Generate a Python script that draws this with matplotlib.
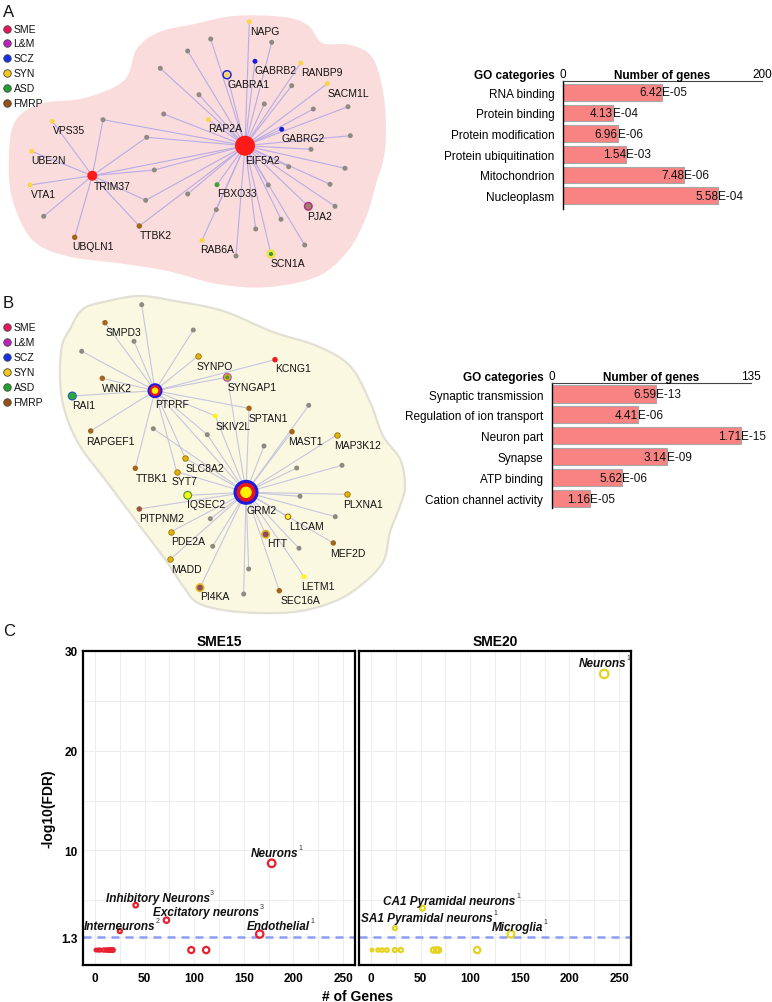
import numpy as np
import matplotlib
matplotlib.use("Agg")
import matplotlib.pyplot as plt
from matplotlib.collections import LineCollection

plt.rcParams['font.family'] = ['Liberation Sans', 'DejaVu Sans']

W, H = 772, 1003

# ------------------------------------------------------------------ DATA
legend_labels = ["SME", "L&M", "SCZ", "SYN", "ASD", "FMRP"]
legend_colors = ["#E8175D", "#C020C0", "#1430E8", "#F6C61A", "#22A030", "#9A4F16"]

# Panel A network (layout coordinates, pixel space)
A_names = ["EIF5A2", "TRIM37", "NAPG", "GABRB2", "RANBP9", "GABRA1", "SACM1L", "RAP2A",
           "GABRG2", "VPS35", "UBE2N", "VTA1", "FBXO33", "PJA2", "TTBK2", "UBQLN1",
           "RAB6A", "SCN1A"]
A_x = [245, 92.3, 249.3, 255, 300.7, 227, 327.3, 208.3, 281.7, 52.3, 31.7, 30, 217,
       308.3, 139.3, 74.7, 202, 271]
A_y = [146.7, 176.7, 22.7, 62.3, 64, 75.7, 84.7, 120.7, 130.3, 122.3, 152.3, 186, 185.7,
       207.3, 227, 238.3, 241.3, 255]
A_kind = ["hubA", "trim", "syn", "scz", "syn", "syn_scz", "syn", "syn", "scz", "syn", "syn",
          "syn", "asd", "lm_fmrp", "fmrp", "fmrp", "syn", "syn_asd"]
A_link = ["", "E", "E", "E", "E", "E", "E", "E", "E", "T", "T", "T", "E", "E", "ET", "T",
          "E", "E"]
A_lab_x = [262.3, 112.3, 265, 275.7, 321.7, 248.3, 348.3, 225.3, 302.7, 69, 49, 43.3, 237.3,
           320, 156.3, 93.3, 217.3, 288.3]
A_lab_y = [160.7, 186.7, 31.7, 70.7, 72.7, 85, 94, 129.3, 139, 131, 161, 195, 194.3, 216.7,
           235.7, 247.3, 250, 264]
A_gray_x = [210.7, 271.7, 187.7, 160.3, 291.7, 199, 264.3, 313.3, 348, 163.7, 103, 350.3,
            146.7, 311, 288.7, 154.3, 345, 268.3, 330, 187.7, 145.7, 335, 216.3, 281, 43.7,
            255.7, 304.7, 236]
A_gray_y = [40, 43.3, 52, 69.3, 86.7, 95.7, 105, 110, 107.7, 115, 120.7, 136.7, 138.3, 150.3,
            167.7, 171, 169.3, 186, 185.3, 195, 201.3, 207.3, 210.7, 220.3, 217.3, 230, 246, 257]
A_gray_link = ["E", "E", "E", "E", "E", "E", "E", "E", "E", "E", "ET", "E", "ET", "E", "E",
               "ET", "E", "E", "E", "E", "ET", "E", "E", "E", "T", "E", "E", "E"]
A_blob_x = [10, 15, 40, 85, 125, 138, 160, 195, 235, 283, 307, 322, 350, 372, 383, 384, 374,
            365, 348, 318, 268, 218, 168, 118, 67, 33, 14]
A_blob_y = [165, 125, 106, 100, 82, 50, 34, 26, 18, 19, 27, 45, 47, 60, 100, 150, 188, 218,
            250, 276, 287, 284, 271, 263, 256, 240, 202]

# Panel B network
B_names = ["PTPRF", "GRM2", "SMPD3", "SYNPO", "KCNG1", "SYNGAP1", "WNK2", "RAI1", "SPTAN1",
           "SKIV2L", "RAPGEF1", "MAST1", "MAP3K12", "SLC8A2", "TTBK1", "SYT7", "IQSEC2",
           "PLXNA1", "PITPNM2", "L1CAM", "PDE2A", "HTT", "MEF2D", "MADD", "LETM1", "PI4KA",
           "SEC16A"]
B_x = [155, 246, 105, 197.7, 275, 227.3, 102.3, 72.3, 249, 215.3, 90.7, 292, 336.7, 185.3,
       135.3, 176.7, 187.7, 346.7, 139.3, 288, 171, 265.7, 333.3, 170.3, 304, 200, 279.3]
B_y = [391.7, 493.3, 323.7, 357.3, 360.7, 378.3, 379.3, 397, 409.3, 417, 432, 432.7, 436,
       459.3, 469.3, 472.7, 496.3, 495.3, 510, 517.7, 532.7, 535.3, 544, 560.3, 577.7, 588.7,
       591.7]
B_kind = ["hubP", "hubG", "fmrp", "gold", "sme", "syngap", "fmrp", "asd_scz", "fmrp", "ylw",
          "fmrp", "fmrp", "gold", "gold", "fmrp", "gold", "iqsec", "gold", "fmrp2", "l1cam",
          "gold", "htt", "fmrp", "gold", "ylw", "htt", "fmrp"]
B_link = ["", "P", "P", "P", "P", "PG", "P", "P", "PG", "PG", "P", "G", "G", "PG", "P", "PG",
          "G", "G", "G", "G", "G", "G", "G", "G", "G", "G", "G"]
B_lab_x = [171.7, 261.7, 123.3, 215, 293.3, 251.7, 116.7, 83.3, 268.3, 233.3, 110, 305,
           357.3, 205, 151.7, 185, 205.7, 363.3, 161.7, 306, 188.3, 276.7, 348.3, 186.7, 318,
           215, 300]
B_lab_y = [405, 511.3, 333.3, 366.7, 369.3, 387.7, 389, 406, 419, 426.7, 441.7, 442.3, 445.7,
           469, 479.3, 481.7, 505.3, 505, 519, 527.3, 542.3, 544, 554, 570, 587, 597.3, 601.3]
B_gray_x = [141.7, 193.3, 134, 81.7, 308.7, 153.3, 207.3, 264, 296.7, 342, 300, 210.3, 335.3,
            212.7, 299, 248.7, 243.7]
B_gray_y = [305.7, 331, 342.3, 352.3, 406.3, 429.7, 435.7, 447, 469, 466.3, 497.3, 519.7,
            517.7, 547.3, 549.3, 570, 595]
B_gray_link = ["P", "P", "P", "P", "G", "G", "PG", "G", "G", "G", "G", "G", "G", "G", "G",
               "G", "G"]
B_blob_x = [60, 62, 70, 83, 108, 140, 175, 223, 273, 317, 350, 370, 383, 400, 405, 400, 390,
            383, 360, 333, 293, 240, 200, 183, 167, 140, 107, 80, 65]
B_blob_y = [380, 347, 330, 310, 302, 297, 302, 312, 333, 347, 367, 403, 437, 460, 487, 507,
            533, 563, 587, 603, 613, 613, 605, 587, 563, 527, 483, 447, 413]

# GO bar charts
A_go = ["RNA binding", "Protein binding", "Protein modification", "Protein ubiquitination",
        "Mitochondrion", "Nucleoplasm"]
A_go_genes = [100, 50, 55, 64, 122, 156]
A_go_p = ["6.42E-05", "4.13E-04", "6.96E-06", "1.54E-03", "7.48E-06", "5.58E-04"]
A_go_max = 200

B_go = ["Synaptic transmission", "Regulation of ion transport", "Neuron part", "Synapse",
        "ATP binding", "Cation channel activity"]
B_go_genes = [71, 58.5, 128.5, 78, 48, 26]
B_go_p = ["6.59E-13", "4.41E-06", "1.71E-15", "3.14E-09", "5.62E-06", "1.16E-05"]
B_go_max = 135

# Panel C enrichment
sme15_labels = ["Neurons", "Inhibitory Neurons", "Excitatory neurons", "Interneurons",
                "Endothelial"]
sme15_sup = ["1", "3", "3", "2", "1"]
sme15_x = [178, 41, 72, 25, 166]
sme15_y = [8.7, 4.5, 3.0, 1.9, 1.6]
sme15_ns_x = [1, 3, 5, 9, 12, 14, 16, 18, 97, 112]
sme15_ns_y = [0] * 10

sme20_labels = ["Neurons", "CA1 Pyramidal neurons", "SA1 Pyramidal neurons", "Microglia"]
sme20_sup = ["1", "1", "1", "1"]
sme20_x = [235, 52, 24, 141]
sme20_y = [27.7, 4.2, 2.2, 1.6]
sme20_ns_x = [1, 7, 11, 16, 24, 30, 63, 66, 68, 107]
sme20_ns_y = [0] * 10

fdr_threshold = 1.3
y_ticks = [1.3, 10, 20, 30]
x_ticks = [0, 50, 100, 150, 200, 250]

# ------------------------------------------------------------------ STYLES
def s_of(d_px):
    return (d_px * 0.72) ** 2

node_styles = {
    "gray": [(5, "#8E8983", "none")],
    "syn": [(5, "#F8D648", "none")],
    "scz": [(5, "#1A1ADC", "none")],
    "asd": [(5, "#3AA23A", "none")],
    "fmrp": [(5.5, "#A2661C", "none")],
    "fmrp2": [(5.5, "#A0523C", "none")],
    "sme": [(5.5, "#F01818", "none")],
    "trim": [(10, "#FF1A1A", "none")],
    "hubA": [(20, "#FF1A1A", "none")],
    "syn_scz": [(9.5, "#2020C8", "none"), (6.5, "#FBE0E0", "none"), (5, "#F8D648", "none")],
    "lm_fmrp": [(9, "#B03080", "none"), (6, "#A08070", "none")],
    "syn_asd": [(9.5, "#F0E34A", "none"), (4.2, "#3A9A3A", "none")],
    "hubP": [(15, "#1C1CE0", "none"), (11, "#E8141E", "none"), (6.5, "#FFF000", "none")],
    "hubG": [(25, "#1C1CE0", "none"), (19, "#E8141E", "none"), (11.5, "#FFF000", "none")],
    "gold": [(5.5, "#E2B400", "#9A7018")],
    "ylw": [(5, "#FFF21A", "none")],
    "syngap": [(9, "#C040C0", "none"), (7, "#C8B020", "none"), (3.8, "#4A9A2A", "none")],
    "asd_scz": [(9, "#1A50C8", "none"), (7, "#2EAA3A", "none")],
    "iqsec": [(9, "#4AA02A", "none"), (6.5, "#FFF020", "none")],
    "l1cam": [(6.5, "#9A5A1A", "none"), (4.5, "#FFF030", "none")],
    "htt": [(9, "#E0B81A", "none"), (5.8, "#8E4A66", "none")],
}


def smooth_closed(xs, ys, n=24):
    P = np.column_stack([xs, ys]).astype(float)
    N = len(P)
    out = []
    t = np.linspace(0, 1, n, endpoint=False)[:, None]
    for i in range(N):
        p0, p1, p2, p3 = P[i - 1], P[i], P[(i + 1) % N], P[(i + 2) % N]
        pts = 0.5 * ((2 * p1) + (-p0 + p2) * t + (2 * p0 - 5 * p1 + 4 * p2 - p3) * t ** 2
                     + (-p0 + 3 * p1 - 3 * p2 + p3) * t ** 3)
        out.append(pts)
    return np.vstack(out)


def draw_nodes(ax, xs, ys, kinds, z=4):
    for x, y, k in zip(xs, ys, kinds):
        for d, fc, ec in node_styles[k]:
            ax.scatter([x], [y], s=s_of(d), c=fc, edgecolors=ec,
                       linewidths=0.6 if ec != "none" else 0, zorder=z)
            z += 0.01


def draw_network(ax, names, xs, ys, kinds, links, lx, ly, gx, gy, glinks,
                 hubs, blob_x, blob_y, blob_fc, blob_ec, edge_col):
    bl = smooth_closed(blob_x, blob_y)
    ax.fill(bl[:, 0], bl[:, 1], facecolor=blob_fc, edgecolor=blob_ec, lw=1.6, zorder=1)
    segs = []
    allx = list(xs) + list(gx)
    ally = list(ys) + list(gy)
    alll = list(links) + list(glinks)
    for x, y, l in zip(allx, ally, alll):
        for key in l:
            hi = hubs[key]
            segs.append([(x, y), (xs[hi], ys[hi])])
    ax.add_collection(LineCollection(segs, colors=edge_col, linewidths=0.8, zorder=2))
    draw_nodes(ax, gx, gy, ["gray"] * len(gx))
    draw_nodes(ax, xs, ys, kinds)
    for n, tx, ty in zip(names, lx, ly):
        ax.text(tx, ty, n, fontsize=7.5, ha="center", va="center", color="#111111",
                zorder=6)


fig = plt.figure(figsize=(W / 100, H / 100), dpi=100)
ax0 = fig.add_axes([0, 0, 1, 1])
ax0.set_xlim(0, W)
ax0.set_ylim(H, 0)
ax0.axis("off")

# Panel A network
draw_network(ax0, A_names, A_x, A_y, A_kind, A_link, A_lab_x, A_lab_y,
             A_gray_x, A_gray_y, A_gray_link, {"E": 0, "T": 1},
             A_blob_x, A_blob_y, "#FADCDC", "#FADCDC", "#B8ACE6")
# Panel B network
draw_network(ax0, B_names, B_x, B_y, B_kind, B_link, B_lab_x, B_lab_y,
             B_gray_x, B_gray_y, B_gray_link, {"P": 0, "G": 1},
             B_blob_x, B_blob_y, "#FBF8E2", "#E2DFD3", "#C6C6DE")

# legends
for y0 in (29.5, 328.0):
    for i, (lab, col) in enumerate(zip(legend_labels, legend_colors)):
        yy = y0 + i * 14.9
        ax0.scatter([7], [yy], s=s_of(7.5), c=col, edgecolors="#444444", linewidths=0.6,
                    zorder=5)
        ax0.text(13.5, yy, lab, fontsize=7.5, ha="left", va="center", color="#111111")

# panel letters
for letter, yy in (("A", 12), ("B", 303), ("C", 632)):
    ax0.text(3, yy, letter, fontsize=12, ha="left", va="center", color="#111111")


def fig_rect(x0, y0, x1, y1):
    return [x0 / W, 1 - y1 / H, (x1 - x0) / W, (y1 - y0) / H]


def go_bar(rect, cats, genes, pvals, vmax, ylim):
    ax = fig.add_axes(rect)
    ypos = np.arange(len(cats))
    ax.barh(ypos, genes, height=0.82, color="#F98282", edgecolor="#A8A8A8", linewidth=0.8)
    ax.set_xlim(0, vmax)
    ax.set_ylim(*ylim)
    ax.set_yticks(ypos)
    ax.set_yticklabels(cats, fontsize=8.5)
    ax.tick_params(axis="y", length=0, pad=6)
    ax.xaxis.tick_top()
    ax.set_xticks([0, vmax])
    ax.set_xticklabels(["0", str(vmax)], fontsize=8.5)
    ax.tick_params(axis="x", length=0, pad=0.5)
    for sp in ("right", "bottom"):
        ax.spines[sp].set_visible(False)
    ax.spines["top"].set_linewidth(0.8)
    ax.spines["top"].set_color("#444444")
    ax.spines["left"].set_linewidth(1.0)
    ax.patch.set_alpha(0)
    for y, g, p in zip(ypos, genes, pvals):
        mant, exp = p.split("E")
        ax.text(g, y, mant, ha="right", va="center", fontsize=8.5, color="#111111")
        ax.text(g, y, "E" + exp, ha="left", va="center", fontsize=8.5, color="#111111")
    ax.text(0.5, 1.0, "Number of genes", transform=ax.transAxes, ha="center", va="bottom",
            fontsize=8.5, fontweight="bold")
    ax.annotate("GO categories", xy=(0, 1), xycoords="axes fraction", xytext=(-5.5, 0),
                textcoords="offset points", ha="right", va="bottom", fontsize=8.5,
                fontweight="bold")
    return ax


go_bar(fig_rect(562.7, 82, 762, 210), A_go, A_go_genes, A_go_p, A_go_max, (5.645, -0.547))
go_bar(fig_rect(551.7, 384, 750.7, 509), B_go, B_go_genes, B_go_p, B_go_max, (5.45, -0.526))


def size_of(x):
    return s_of(2.5 + 6.0 * (np.asarray(x, float) / 235.0) ** 0.6)


def enrich_panel(rect, title, color, xs, ys, nsx, nsy, labels, sups, offsets, show_y):
    ax = fig.add_axes(rect)
    ax.set_xlim(-12.1, 262)
    ax.set_ylim(-1.5, 30)
    ax.set_xticks(x_ticks)
    ax.set_xticks([25, 75, 125, 175, 225], minor=True)
    ax.set_yticks(y_ticks)
    ax.set_yticks([5, 15, 25], minor=True)
    ax.grid(True, which="both", color="#EAEAEA", lw=0.6)
    ax.set_axisbelow(True)
    ax.tick_params(which="both", length=0)
    ax.tick_params(axis="x", pad=5)
    ax.tick_params(axis="y", pad=4)
    for lab in ax.get_xticklabels():
        lab.set_fontweight("bold")
        lab.set_fontsize(8.5)
    if show_y:
        ax.set_yticklabels([str(v) for v in y_ticks], fontsize=8.5, fontweight="bold")
    else:
        ax.set_yticklabels([])
    for sp in ax.spines.values():
        sp.set_linewidth(1.6)
        sp.set_color("black")
    ax.set_title(title, fontsize=10, fontweight="bold", pad=4)
    ax.axhline(fdr_threshold, color="#8C9DF2", lw=1.8, dashes=(3.2, 2.4), zorder=2)
    ax.scatter(nsx, nsy, s=size_of(nsx), facecolors="none", edgecolors=color,
               linewidths=1.6, zorder=3)
    ax.scatter(xs, ys, s=size_of(xs), facecolors="none", edgecolors=color,
               linewidths=1.6, zorder=3)
    for x, y, lab, sup, (dx, dy) in zip(xs, ys, labels, sups, offsets):
        t = ax.annotate(lab, xy=(x, y), xytext=(dx * 0.72, dy * 0.72),
                        textcoords="offset points", ha="center", va="center",
                        fontsize=8.5, fontweight="bold", style="italic", color="#111111",
                        zorder=5)
        ax.annotate(sup, xy=(1, 0.95), xycoords=t, xytext=(0.3, 0),
                    textcoords="offset points", ha="left", va="center", fontsize=5,
                    color="#333333", zorder=5)
    return ax


sme15_off = [(3, 10), (22, 7), (40, 8), (0, 5), (19, 8)]
sme20_off = [(-2, 11), (27, 7), (32, 10), (6.5, 7)]

enrich_panel(fig_rect(83, 652, 355, 966), "SME15", "#E8202F", sme15_x, sme15_y,
             sme15_ns_x, sme15_ns_y, sme15_labels, sme15_sup, sme15_off, True)
enrich_panel(fig_rect(359, 652, 631, 966), "SME20", "#E6D21E", sme20_x, sme20_y,
             sme20_ns_x, sme20_ns_y, sme20_labels, sme20_sup, sme20_off, False)

fig.text(48 / W, 1 - 809 / H, "-log10(FDR)", rotation=90, ha="center", va="center",
         fontsize=10, fontweight="bold")
fig.text(358 / W, 1 - 997 / H, "# of Genes", ha="center", va="center", fontsize=10,
         fontweight="bold")

fig.savefig("out.png", dpi=100)
